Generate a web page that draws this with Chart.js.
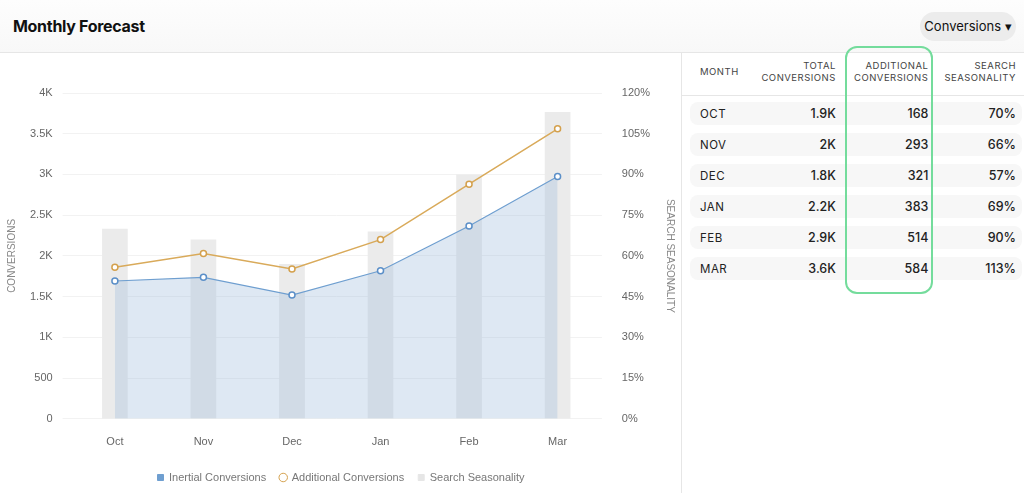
<!DOCTYPE html>
<html><head><meta charset="utf-8">
<script src="https://cdn.jsdelivr.net/npm/chart.js@4"></script>
<style>
body{margin:0;width:1024px;height:493px;background:#fff;font-family:Inter,"Liberation Sans",sans-serif;overflow:hidden;position:relative}
#hdr{position:absolute;left:0;top:0;width:1024px;height:52px;background:linear-gradient(#fdfdfd,#f8f8f8);border-bottom:1px solid #e6e6e6}
#title{position:absolute;left:13px;top:16px;font-size:16px;font-weight:700;color:#111;letter-spacing:-0.3px}
#btn{position:absolute;left:920px;top:12px;width:96px;height:29px;border-radius:15px;background:#ececec;font-size:13px;color:#111;line-height:29px;text-align:center}
#vline{position:absolute;left:681px;top:52px;width:1px;height:441px;background:#e6e6e6}
#cw{position:absolute;left:0;top:52px;width:680px;height:441px}
table{position:absolute;left:690px;top:50px;width:332px;border-collapse:separate;border-spacing:0 8px;font-size:12px;color:#222}
th{font-size:9.5px;font-weight:400;color:#444;letter-spacing:0.5px;line-height:12px;text-align:right;padding:0 0 8px 0;height:28px;vertical-align:middle}
th:first-child{text-align:left;padding-left:10px}
td{background:#f7f7f7;height:23px;padding:0;text-align:right;font-weight:500;font-size:12.5px}
td:first-child{text-align:left;padding-left:10px;border-radius:8px 0 0 8px;font-size:11.5px;letter-spacing:0.5px;font-weight:400}
td:last-child{border-radius:0 8px 8px 0;padding-right:6px}
th:last-child{padding-right:6px}
.c2{padding-right:10px}
.c3{padding-right:16px}
#sep{position:absolute;left:682px;top:95px;width:342px;height:1px;background:#e6e6e6}
#box{position:absolute;left:845px;top:46px;width:84px;height:244px;border:2px solid #74dc9c;border-radius:12px}
</style></head><body>
<div id="hdr"><div id="title">Monthly Forecast</div><div id="btn">Conversions ▾</div></div>
<div id="vline"></div>
<div id="cw"><canvas id="c" width="680" height="441"></canvas></div>
<div id="sep"></div>
<table id="t"><thead><tr><th style="width:60px">MONTH</th><th class="c2" style="width:80px">TOTAL<br>CONVERSIONS</th><th class="c3" style="width:84px">ADDITIONAL<br>CONVERSIONS</th><th>SEARCH<br>SEASONALITY</th></tr></thead><tbody></tbody></table>
<div id="box"></div>
<script>
const months=["Oct","Nov","Dec","Jan","Feb","Mar"];
const inertial=[1692,1737,1519,1817,2366,2976];
const additional=[168,293,321,383,514,584];
const seasonality=[70,66,57,69,90,113];
const totalLabels=["1.9K","2K","1.8K","2.2K","2.9K","3.6K"];
const total=inertial.map((v,i)=>v+additional[i]);

const tb=document.querySelector('#t tbody');
months.forEach((m,i)=>{const tr=document.createElement('tr');
tr.innerHTML=`<td>${m.toUpperCase()}</td><td class="c2">${totalLabels[i]}</td><td class="c3">${additional[i]}</td><td>${seasonality[i]}%</td>`;tb.appendChild(tr);});

const grid='#f2f2f2', tick='#666';
new Chart(document.getElementById('c'),{
 data:{labels:months,datasets:[
  {type:'line',label:'Inertial Conversions',data:inertial,yAxisID:'y',borderColor:'#6f9fd0',borderWidth:1.2,backgroundColor:'rgba(160,190,220,0.35)',fill:'origin',tension:0,pointRadius:3,pointBorderWidth:1.5,pointBackgroundColor:'#fff',pointBorderColor:'#5b8fc8',order:1},
  {type:'line',label:'Additional Conversions',data:total,yAxisID:'y',borderColor:'#d9aa5a',borderWidth:1.5,fill:false,tension:0,pointRadius:3,pointBorderWidth:1.5,pointBackgroundColor:'#fff',pointBorderColor:'#d4a04c',order:0},
  {type:'bar',label:'Search Seasonality',data:seasonality,yAxisID:'y1',backgroundColor:'#ebebeb',barPercentage:0.29,categoryPercentage:1,order:2}
 ]},
 options:{responsive:false,animation:false,
  layout:{padding:{left:4,right:2,top:41,bottom:0}},
  plugins:{legend:{position:'bottom',labels:{usePointStyle:true,boxWidth:6,boxHeight:6,color:'#777',font:{size:11},padding:14,
    generateLabels:(ch)=>ch.data.datasets.map((d,i)=>({text:d.label,datasetIndex:i,fontColor:'#777',pointStyle:i==1?'circle':'rect',fillStyle:i==0?'#6f9fd0':i==1?'#fff':'#e6e6e6',strokeStyle:i==1?'#d4a04c':(i==0?'#6f9fd0':'#e6e6e6'),lineWidth:1}))}},tooltip:{enabled:false}},
  scales:{
   x:{offset:true,grid:{display:false},border:{display:false},ticks:{color:tick,font:{size:11},padding:9}},
   y:{min:0,max:4000,ticks:{stepSize:500,color:tick,font:{size:11},padding:10,callback:v=>v>=1000?(v/1000)+'K':v},grid:{color:grid},border:{display:false},
      title:{display:true,text:'CONVERSIONS',color:'#888',font:{size:10},padding:2}},
   y1:{position:'right',min:0,max:120,ticks:{stepSize:15,color:tick,font:{size:11},padding:12,callback:v=>v+'%'},grid:{display:false},border:{display:false},
      title:{display:true,text:'SEARCH SEASONALITY',color:'#888',font:{size:10},padding:2}}
  }}
});
</script></body></html>
